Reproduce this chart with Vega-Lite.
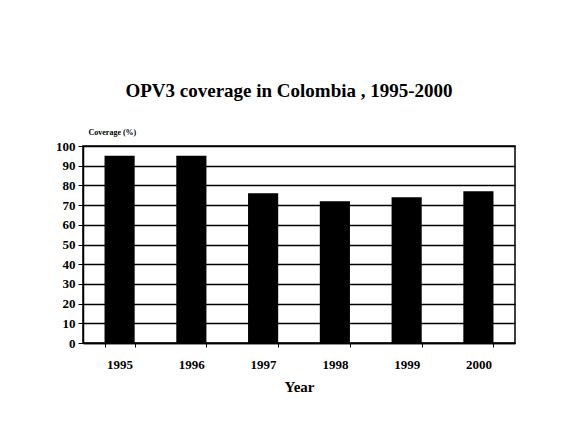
{
  "$schema": "https://vega.github.io/schema/vega-lite/v6.json",
  "width": 432,
  "height": 197,
  "autosize": {"type": "none"},
  "padding": {"left": 83, "top": 146, "right": 52, "bottom": 87},
  "background": "white",
  "title": {
    "text": "OPV3 coverage in Colombia , 1995-2000",
    "font": "Liberation Serif",
    "fontSize": 19,
    "fontWeight": "bold",
    "color": "black",
    "anchor": "middle",
    "offset": 27,
    "dx": -10
  },
  "data": {
    "values": [
      {"Year": "1995", "Coverage": 95},
      {"Year": "1996", "Coverage": 95},
      {"Year": "1997", "Coverage": 76},
      {"Year": "1998", "Coverage": 72},
      {"Year": "1999", "Coverage": 74},
      {"Year": "2000", "Coverage": 77}
    ]
  },
  "mark": {"type": "bar", "color": "black"},
  "encoding": {
    "x": {
      "field": "Year",
      "type": "ordinal",
      "scale": {"paddingInner": 0.58, "paddingOuter": 0.3},
      "axis": {
        "title": "Year",
        "titleFont": "Liberation Serif",
        "titleFontSize": 15,
        "titleFontWeight": "bold",
        "titleColor": "black",
        "titlePadding": 8,
        "labelAngle": 0,
        "labelFont": "Liberation Serif",
        "labelFontSize": 13,
        "labelFontWeight": "bold",
        "labelColor": "black",
        "labelPadding": 11,
        "tickBand": "extent",
        "tickColor": "black",
        "tickSize": 4,
        "domainColor": "black",
        "domainWidth": 1.5,
        "grid": false
      }
    },
    "y": {
      "field": "Coverage",
      "type": "quantitative",
      "scale": {"domain": [0, 100]},
      "axis": {
        "title": "Coverage (%)",
        "titleAngle": 0,
        "titleX": 5,
        "titleY": -14,
        "titleAlign": "left",
        "titleBaseline": "middle",
        "titleFont": "Liberation Serif",
        "titleFontSize": 8,
        "titleFontWeight": "bold",
        "titleColor": "black",
        "values": [0, 10, 20, 30, 40, 50, 60, 70, 80, 90, 100],
        "labelFont": "Liberation Serif",
        "labelFontSize": 13,
        "labelFontWeight": "bold",
        "labelColor": "black",
        "labelPadding": 3,
        "tickColor": "black",
        "tickSize": 5,
        "domainColor": "black",
        "domainWidth": 1.5,
        "grid": true,
        "gridColor": "black",
        "gridWidth": 1.5
      }
    }
  },
  "config": {
    "view": {"stroke": "black", "strokeWidth": 1.5}
  }
}
